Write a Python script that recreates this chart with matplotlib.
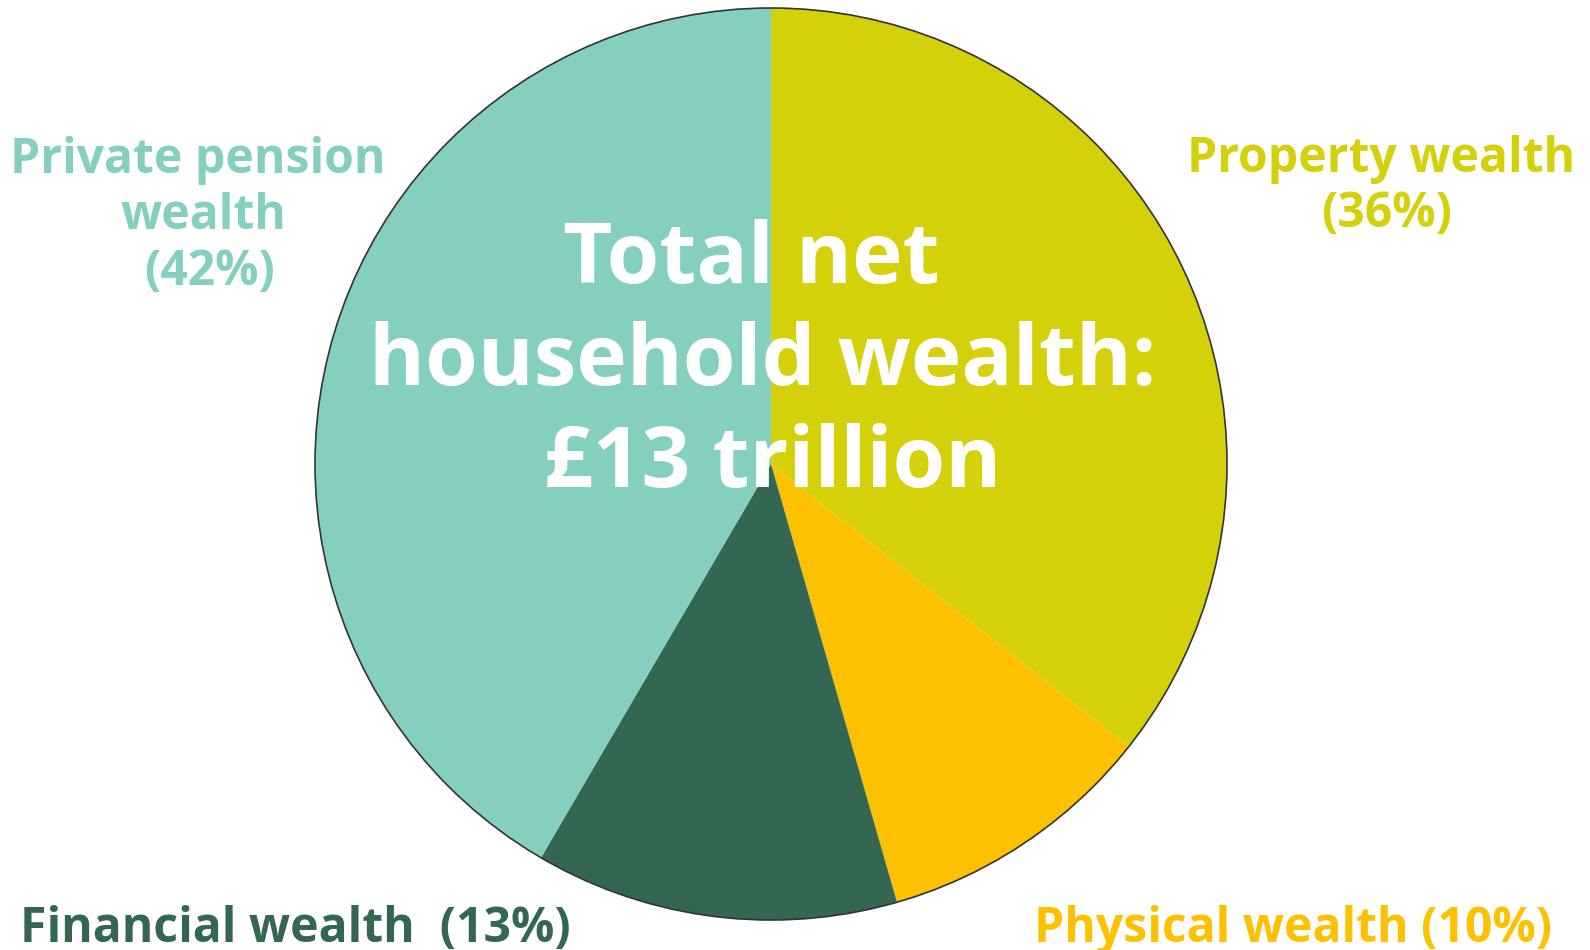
import matplotlib.pyplot as plt

plt.rcParams['font.family'] = ['Open Sans', 'DejaVu Sans']

labels = ["Property wealth", "Physical wealth", "Financial wealth", "Private pension wealth"]
shares = [36, 10, 13, 42]
colors = ["#D4D10B", "#FDC100", "#346751", "#84CFC0"]

H = 950
fig = plt.figure(figsize=(15.9, 9.5), dpi=100)
ax = fig.add_axes([0, 0, 1, 1])

cx, cy, r = 771, H - 464, 456
ax.pie(shares, colors=colors, startangle=90, counterclock=False,
       center=(cx, cy), radius=r, frame=True, wedgeprops=dict(linewidth=0))
ax.set_xlim(0, 1590)
ax.set_ylim(0, H)
ax.set_aspect('equal')
ax.axis('off')
ax.add_patch(plt.Circle((cx, cy), r, fill=False, edgecolor="#333333", linewidth=1.2))

def put(x, y, s, color, size, ha='center'):
    # y given from the top of the picture, at the text baseline
    ax.text(x, H - y, s, ha=ha, va='baseline', color=color,
            fontsize=size, fontweight='bold')

# centre title
put(751, 283, "Total net", 'white', 61.5)
put(763, 385, "household wealth:", 'white', 61.5)
put(773, 487, "£13 trillion", 'white', 61.5)

# slice labels
put(198, 173, "Private pension", colors[3], 34.7)
put(203, 229, "wealth", colors[3], 34.7)
put(210, 285, "(42%)", colors[3], 34.7)
put(1381, 172, "Property wealth", colors[0], 34.7)
put(1387, 227, "(36%)", colors[0], 34.7)
put(20, 942, "Financial wealth  (13%)", colors[2], 34.7, ha='left')
put(1034, 942, "Physical wealth (10%)", colors[1], 34.7, ha='left')

fig.savefig("out.png", dpi=100)
